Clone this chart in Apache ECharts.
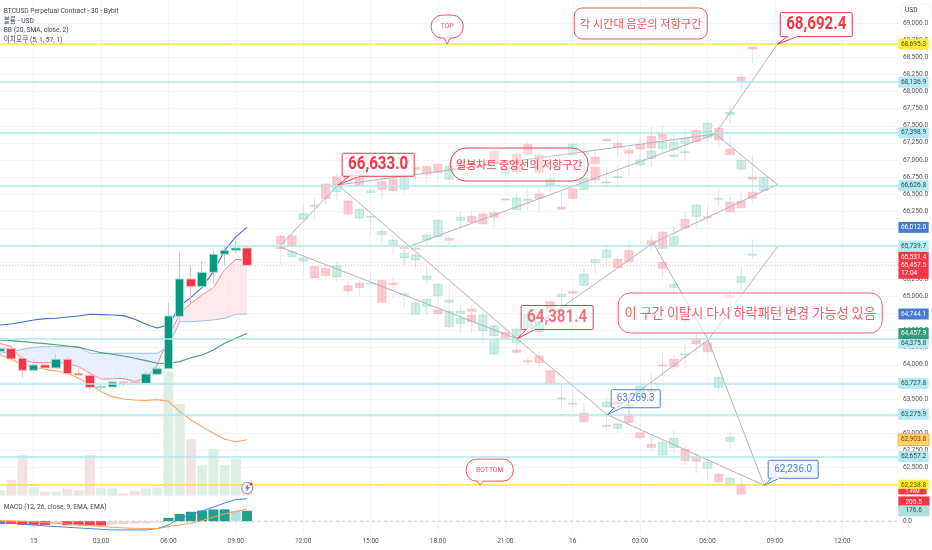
<!DOCTYPE html>
<html><head><meta charset="utf-8">
<style>html,body{margin:0;padding:0;background:#fff}#c{width:932px;height:550px}</style>
<script src="https://cdn.jsdelivr.net/npm/echarts@6/dist/echarts.min.js"></script>
</head><body><div id="c"></div>
<script>
// ---------- data ----------
const barCount = 81;
const timeTickBars = [3,9,15,21,27,33,39,45,51,57,63,69,75];
const timeTickLabels = ['15','03:00','06:00','09:00','12:00','15:00','18:00','21:00','16','03:00','06:00','09:00','12:00'];
const priceTicks = [62250,62500,62750,63000,63250,63500,63750,64000,64250,64500,64750,65000,65250,65500,65750,66000,66250,66500,66750,67000,67250,67500,67750,68000,68250,68500,68750,69000];
// [open, close, low, high]
const candles = [
[64198,64237,64178,64256],[64237,64086,64086,64291],[64095,63920,63812,64120],[63920,63998,63920,64086],
[63998,63954,63949,64008],[63954,64081,63954,64159],[64081,63871,63871,64130],[63876,63851,63851,63949],
[63846,63671,63632,63905],[63671,63681,63622,63729],[63676,63749,63676,63759],[63749,63739,63681,63793],
[63749,63739,63705,63768],[63729,63866,63729,63900],[63861,63944,63861,64022],[63944,64715,63944,64915],
[64710,65257,64632,65642],[65257,65145,64901,65462],[65145,65354,65135,65520],[65354,65618,65193,65681],
[65618,65677,65462,65730],[65677,65711,65633,65852],[65711,65457,65452,65711]];
const volumes = [11,32,82,17,8,8,14,11,82,16,15,5,9,15,17,250,185,114,61,94,62,75,11];
const bbUpper = [64583,64598,64627,64657,64676,64681,64700,64715,64740,64735,64730,64720,64666,64593,64539,64583,64862,64988,65135,65364,65672,65877,66012];
const bbMiddle = [64364,64354,64339,64325,64310,64295,64276,64256,64217,64178,64154,64130,64095,64061,64022,64022,64047,64105,64144,64217,64315,64388,64458];
const bbLower = [64144,64086,63998,63964,63934,63910,63876,63803,63720,63607,63534,63500,63485,63480,63490,63466,63315,63193,63095,62997,62910,62875,62904];
const spanA = [64315,64266,64071,64032,64032,64032,64022,63973,63876,63793,63793,63803,63754,63803,63998,64388,64754,64901,65023,65130,65389,65545,65531];
const spanB = [64169,64193,64227,64256,64266,64266,64266,64266,64169,64169,64169,64169,64169,64169,64169,64266,64632,64632,64642,64657,64681,64740,64744];
const macdHist = [-46,-46,-63,-63,-63,-40,-68,-68,-74,-74,-57,-46,-40,-34,-17,57,125,160,182,200,201,177,177];
const macdLine = [-23,-34,-51,-63,-80,-91,-103,-114,-125,-137,-148,-148,-148,-148,-125,-63,51,108,177,239,308,365,382];
const macdSignal = [11,6,0,-11,-23,-34,-46,-63,-74,-91,-103,-114,-120,-125,-125,-91,-63,-34,11,68,125,165,205];
// faded projection candles: [bar, open, close, low, high]
const ghostBars = [
[25,65882,65769,65769,65901],[25,65730,65701,65462,65769],[26,65891,65740,65701,65926],[26,65584,65657,65574,65682],
[27,66131,66214,66121,66365],[27,65521,65560,65340,65584],[28,66326,66336,66145,66438],[28,65438,65272,65272,65447],
[29,66648,66433,66340,66658],[29,65413,65306,65252,65486],[30,66755,66633,66633,66804],[30,66536,66633,66414,66633],
[30,65291,65452,65218,65511],[31,66843,66706,66706,66902],[31,66399,66209,66194,66414],[31,65159,65086,65023,65218],
[32,66828,66623,66623,66877],[32,66150,66277,66121,66292],[32,65194,65130,64998,65242],[33,66521,66550,66521,66570],
[33,66169,66174,65901,66194],[33,65189,65198,65184,65364],[34,66682,66570,66438,66731],[34,65906,65950,65779,65999],
[34,65233,64915,64915,65242],[35,66716,66550,66550,66780],[35,65745,65823,65608,65901],[35,65198,65174,64974,65291],
[36,66570,66741,66511,66804],[36,65716,65701,65462,65740],[36,65569,65633,65462,65706],[36,65028,65037,64828,65072],
[37,66887,66863,66682,66950],[37,65706,65696,65682,65721],[37,65535,65608,65413,65633],[37,64740,64901,64740,64925],
[38,66902,66789,66667,66926],[38,65828,65896,65730,65926],[38,65252,65301,65169,65438],[38,64857,64959,64730,64974],
[39,66936,66814,66706,66950],[39,65877,66116,65867,66121],[39,65013,65179,64901,65194],[39,64803,64745,64745,64828],
[40,66716,66902,66682,66950],[40,65852,65823,65755,65901],[40,64915,64945,64754,65194],[40,64559,64779,64535,64803],
[41,66116,66155,65999,66243],[41,66975,66902,66828,67072],[41,64754,64784,64632,64876],[41,64608,64686,64471,64803],
[42,66174,66087,66072,66267],[42,64818,64784,64760,64876],[42,64730,64632,64462,64852],[43,66209,66062,66048,66243],
[43,64501,64730,64315,64828],[44,67121,66950,66902,67146],[44,66228,66160,66013,66267],[44,64427,64569,64423,64584],
[44,64159,64374,64144,64388],[45,66804,66877,66780,66999],[45,66423,66428,66423,66428],[45,64476,64388,64364,64486],
[46,67082,66828,66779,67145],[46,66276,66437,66267,66511],[46,64330,64525,64266,64535],[46,64218,64183,64144,64242],
[47,67228,67082,67047,67267],[47,66408,66423,66267,66569],[47,64549,64745,64510,64779],[47,64061,64042,63998,64120],
[48,67072,66818,66779,67121],[48,66501,66437,66218,66584],[48,64486,64632,64462,64706],[48,64130,64032,63949,64203],
[49,66633,66716,66486,66803],[49,64925,64828,64803,64950],[49,63915,63730,63730,63925],[50,66311,66276,66276,66535],
[50,64998,65033,64852,65096],[50,63505,63515,63339,63705],[51,67072,67228,67072,67267],[51,66574,66437,66437,66633],
[51,65072,65047,64925,65110],[51,63437,63432,63339,63622],[52,66569,66730,66559,67267],[52,65164,65325,65154,65413],
[52,63290,63168,63168,63437],[53,67038,66945,66945,67194],[53,66891,66706,66633,66901],[53,65496,65544,65330,65583],
[54,67301,67282,67267,67330],[54,66667,66677,66608,66901],[54,65574,65681,65461,65754],[54,63388,63451,63388,63534],
[54,63115,63110,63046,63290],[55,67243,67184,67047,67404],[55,66745,66755,66584,66925],[55,65544,65422,65422,65608],
[55,63456,63427,63290,63486],[55,63071,63134,62998,63144],[56,67140,67096,66779,67218],[56,65676,65510,65500,65827],
[56,63373,63412,63266,63461],[56,63256,63154,63095,63364],[57,67228,67160,66999,67389],[57,66930,66999,66901,67072],
[57,63534,63691,63534,63778],[57,63007,62934,62900,63144],[58,67345,67174,67072,67487],[58,67018,67130,66901,67169],
[58,65818,65740,65657,65901],[58,63622,63608,63437,63876],[58,62837,62788,62744,62949],[59,67374,67301,67243,67511],
[59,67169,67257,67096,67316],[59,65940,65705,65705,65974],[59,65500,65413,65291,65500],[59,63998,63988,63827,64193],
[59,62680,62861,62656,62900],[60,67150,67257,67121,67389],[60,67047,67072,67038,67121],[60,65759,65876,65730,66032],
[60,65134,65178,64949,65193],[60,64081,63969,63925,64144],[60,62788,62924,62705,63046],[61,67243,67316,67169,67462],
[61,67106,67121,66984,67243],[61,66130,65998,65984,66242],[61,64632,64657,64462,64828],[61,64144,64159,63949,64315],
[61,62763,62597,62534,62802],[62,67428,67267,67243,67462],[62,66174,66340,66023,66364],[62,64388,64305,64169,64559],
[62,62646,62588,62412,62705],[63,67413,67535,67316,67560],[63,67326,67413,67267,67438],[63,66169,66154,66096,66325],
[63,64325,64193,64169,64388],[63,62485,62573,62339,62632],[64,67462,67291,67169,67535],[64,66432,66437,66315,66584],
[64,63671,63817,63583,63827],[64,62397,62290,62217,62412],[65,67667,67696,67535,67804],[65,67155,67077,67077,67340],
[65,66379,66242,66228,66462],[65,65023,64984,64828,65096],[65,62876,62939,62763,63022],[65,62241,62339,62217,62363],
[66,68214,68155,68009,68258],[66,66867,66994,66852,67047],[66,66398,66301,66291,66535],[66,65208,65291,65095,65437],
[66,62251,62109,62095,62363],[67,68653,68624,68419,68660],[67,66750,66716,66633,67072],[67,66525,66437,66364,66730],
[67,65613,65618,65559,65837],[68,66550,66745,66550,66755]];
// zigzag pivots: [bar, price]
const zigzagA = [[24.86,65730],[30.11,66633],[46.05,64381.4],[54.07,63269.3],[68.05,62236]];
const zigzagB = [[24.86,65730],[46.05,64381.4]];
const zigzagC = [[30.11,66633],[63.69,67379],[69.21,66640]];
const zigzagD = [[36.35,65730],[63.69,67379],[69.21,68692.4]];
const zigzagE = [[46.05,64381.4],[58.16,65784],[69.21,66640]];
const zigzagF = [[58.16,65784],[63.06,64364],[68.05,62236]];
const zigzagG = [[54.07,63269.3],[63.06,64364],[69.21,65725]];
const cyanLevels = [68136.9,67398.9,66626.8,65739.7,64375.8,63727.8,63275.9,62657.2];
const yellowLevels = [68695.3,62238.8];
const blueTags = [66012.0,64744.1];
const greenTags = [64457.9];
const bbLowerTag = 62903.8;
const lastPrice = 65457.5;
const lastTagText = '65,531.4\n65,457.5\n17:04';
const volumeTagPrice = 62143;
const volumeTagText = '1.49M';
const macdTagRed = 205.5, macdTagTeal = 176.6;
const legendLines = ['BTCUSD Perpetual Contract - 30 - Bybit','볼륨 - USD','BB (20, SMA, close, 2)','이치모쿠 (5, 1, 57, 1)'];
const macdLegend = 'MACD (12, 26, close, 9, EMA, EMA)';
// annotations: anchor bar, anchor price, text
const noteBars = [30.11,69.21,46.05,54.07,68.05,39.82,42.76,51.13,40.09,55.05];
const notePrices = [66633,68692.4,64381.4,63269.3,62236,68695.3,62238.8,69224,67174,65052];
const noteTexts = ['66,633.0','68,692.4','64,381.4','63,269.3','62,236.0','TOP','BOTTOM','각 시간대 음운의 저항구간','일봉차트 중앙선의 저항구간','이 구간 이탈시 다시 하락패턴 변경 가능성 있음'];
// tags the axis pushes aside so they do not overlap: shown value -> resting position on its axis
const shiftedPriceTag = {value:64375.8,restsAt:64320};
const shiftedMacdTag = {value:macdTagRed,restsAt:328};

// ---------- styles ----------
const SANS = 'Roboto,sans-serif';
const KR = '"Noto Sans CJK KR",sans-serif';
const RED='#f23645', BLUE='#4a7fd6';
const noteStyles = [
 {dx:4,dy:-31.7,w:72,h:23,r:1,c:RED,f:'rgba(255,255,255,.75)',font:'bold 18px '+SANS,sx:.84,tail:[7,17]},
 {dx:3,dy:-31.7,w:72,h:24,r:1,c:RED,f:'rgba(255,255,255,.85)',font:'bold 18px '+SANS,sx:.84,tail:[7,17]},
 {dx:4,dy:-33.3,w:72,h:24,r:1,c:RED,f:'rgba(255,255,255,.3)',font:'bold 18px '+SANS,sx:.84,tail:[5,14],tc:'rgba(242,54,69,.7)'},
 {dx:4,dy:-25,w:49,h:18,r:1,c:BLUE,f:'rgba(255,255,255,.3)',font:'11px '+SANS,sx:.9,tail:[3,11]},
 {dx:4,dy:-25,w:50,h:18,r:1,c:BLUE,f:'rgba(220,232,250,.35)',font:'11px '+SANS,sx:.9,tail:[3,11]},
 {dx:-16,dy:-29,w:32,h:23,r:11,c:'#f4525f',f:'rgba(255,255,255,.9)',font:'7.5px '+SANS,sx:.9,tail:[13,19]},
 {dx:-14,dy:-26,w:47,h:22,r:10,c:'#f4525f',f:'rgba(255,255,255,.9)',font:'7.5px '+SANS,sx:.9,tail:[11,17]},
 {dx:0,dy:0,w:133,h:31,r:8,c:'#f4525f',f:'rgba(255,255,255,.9)',font:'11.3px '+KR,sx:1},
 {dx:0,dy:0,w:138,h:33,r:16,c:'#f2414f',f:'rgba(255,255,255,.25)',font:'11px '+KR,sx:1},
 {dx:0,dy:0,w:264,h:40,r:12,c:'#f4606c',f:'rgba(255,255,255,.6)',font:'13.2px '+KR,sx:1}
];
function fmt(v){return v.toLocaleString('en-US',{minimumFractionDigits:1,maximumFractionDigits:1});}
const NOLINE={color:'rgba(0,0,0,0)',width:0,type:'solid'};
function tagLine(v,bg,color,lineColor,lineWidth,text,extra){
  return {yAxis:v,
    lineStyle:lineColor?{color:lineColor,width:lineWidth,type:'solid'}:NOLINE,
    label:Object.assign({show:true,position:'end',distance:0,formatter:text||fmt(v),color:color,backgroundColor:bg,
      fontFamily:SANS,fontSize:6.6,padding:[1.5,2.5,1.5,2.5],lineHeight:8},extra||{})};
}
function zig(pts,name){return {type:'line',name:name,xAxisIndex:1,yAxisIndex:0,data:pts,symbol:'none',silent:true,
  lineStyle:{color:'#b0b3ba',width:1},z:5,animation:false};}
function overlay(arr,color,width){return {type:'line',xAxisIndex:0,yAxisIndex:0,data:arr,symbol:'none',silent:true,
  lineStyle:{color:color,width:width||1},z:3,animation:false};}

const cats = Array.from({length:barCount},(_,i)=>String(i));
const cloudRows = spanA.slice(0,-1).map((a,i)=>[i,a,spanA[i+1],spanB[i],spanB[i+1]]);
const tagsMain = [];
cyanLevels.forEach(v=>{
  if(v===shiftedPriceTag.value){
    tagsMain.push({yAxis:v,lineStyle:{color:'#aee8ef',width:1.5,type:'solid'},label:{show:false}});
    tagsMain.push(tagLine(shiftedPriceTag.restsAt,'#b2ebf2','#33474d',null,0,fmt(v)));
  } else tagsMain.push(tagLine(v,'#b2ebf2','#33474d','#aee8ef',1.5));
});
yellowLevels.forEach(v=>tagsMain.push(tagLine(v,'#ffeb3b','#5c5200','#ffe92e',1.6)));
blueTags.forEach(v=>tagsMain.push(tagLine(v,'#4a7ad0','#fff')));
greenTags.forEach(v=>tagsMain.push(tagLine(v,'#359a78','#fff')));
tagsMain.push(tagLine(bbLowerTag,'#ffcf70','#7a4b00',null,0,null,{borderColor:'#ff9f40',borderWidth:.7}));
tagsMain.push(tagLine(lastPrice,RED,'#fff',null,0,lastTagText));
tagsMain.push(tagLine(volumeTagPrice,RED,'#fff',null,0,volumeTagText,{fontSize:5,lineHeight:4,padding:[1,7,.5,7]}));

const chart = echarts.init(document.getElementById('c'),null,{renderer:'canvas'});
chart.setOption({
 animation:false,
 backgroundColor:'#fff',
 textStyle:{fontFamily:SANS},
 grid:[{left:0,top:0,width:898.4,height:495.7},{left:0,top:495.7,width:898.4,height:37.3}],
 xAxis:[
  {type:'category',gridIndex:0,data:cats,show:false,boundaryGap:false},
  {type:'value',gridIndex:0,position:'bottom',min:0,max:barCount-1,axisLine:{show:false},axisTick:{show:false,customValues:timeTickBars},axisLabel:{show:false},
    splitLine:{show:true,lineStyle:{color:'#f3f4f6',width:1}}},
  {type:'category',gridIndex:1,data:cats,show:false,boundaryGap:false},
  {type:'value',gridIndex:1,position:'bottom',min:0,max:barCount-1,axisLine:{show:false},axisTick:{show:false,customValues:timeTickBars},
    axisLabel:{customValues:timeTickBars,margin:5,color:'#555',fontSize:6.6,fontFamily:SANS,
      formatter:v=>timeTickLabels[timeTickBars.indexOf(v)]},
    splitLine:{show:true,lineStyle:{color:'#f3f4f6',width:1}}}
 ],
 yAxis:[
  {type:'value',gridIndex:0,position:'right',min:62084,max:69341,scale:true,
    axisLine:{show:false},axisTick:{show:false,customValues:priceTicks},
    axisLabel:{customValues:priceTicks.slice(1),margin:4.5,color:'#555',fontSize:6.6,fontFamily:SANS,formatter:v=>fmt(v)},
    splitLine:{show:true,lineStyle:{color:'#f3f4f6',width:1}}},
  {type:'value',gridIndex:0,min:0,max:1000,show:false},
  {type:'value',gridIndex:1,position:'right',min:-200,max:433,
    axisLine:{show:false},axisTick:{show:false,customValues:[0]},splitLine:{show:false},
    axisLabel:{customValues:[0],margin:4.5,color:'#555',fontSize:6.6,fontFamily:SANS,formatter:v=>fmt(v)}}
 ],
 series:[
  {type:'bar',xAxisIndex:0,yAxisIndex:1,data:volumes,barWidth:10,silent:true,z:1,
    itemStyle:{color:p=>candles[p.dataIndex][1]>=candles[p.dataIndex][0]?'#dfeee3':'#f0e3e4'}},
  {type:'custom',name:'cloud',xAxisIndex:1,yAxisIndex:0,data:cloudRows,silent:true,z:2,clip:true,
    encode:{x:0,y:[1,2,3,4]},
    renderItem:function(params,api){
      const i=api.value(0),a0=api.value(1),a1=api.value(2),b0=api.value(3),b1=api.value(4);
      const P=(x,y)=>api.coord([x,y]);
      const PINK='#feeaec',SKY='#e8eefc';
      const poly=(pts,c)=>({type:'polygon',shape:{points:pts},style:{fill:c}});
      if((a0-b0)*(a1-b1)<0){
        const t=(a0-b0)/((a0-b0)-(a1-b1)),xc=i+t,yc=a0+(a1-a0)*t;
        return {type:'group',children:[
          poly([P(i,a0),P(xc,yc),P(i,b0)],a0>b0?PINK:SKY),
          poly([P(xc,yc),P(i+1,a1),P(i+1,b1)],a1>b1?PINK:SKY)]};
      }
      return poly([P(i,a0),P(i+1,a1),P(i+1,b1),P(i,b0)],a0>=b0?PINK:SKY);
    }},
  overlay(spanB,'#9cc0ea'),
  overlay(spanA,'#f58a90'),
  overlay(bbUpper,'#3d6fd6',1.1),
  overlay(bbMiddle,'#46a678',1.1),
  overlay(bbLower,'#f9a65a',1.1),
  {type:'line',name:'last price',xAxisIndex:1,yAxisIndex:0,data:[[0,lastPrice],[barCount-1,lastPrice]],symbol:'none',silent:true,z:3,
    lineStyle:{color:'#fbb4ba',width:1,type:[1,2]}},
  {type:'custom',name:'projection',xAxisIndex:1,yAxisIndex:0,data:ghostBars,silent:true,z:4,clip:true,
    encode:{x:0,y:[1,2,3,4]},
    renderItem:function(params,api){
      const i=api.value(0),o=api.value(1),c=api.value(2),l=api.value(3),h=api.value(4);
      const up=c>=o;
      const x=api.coord([i,o])[0];
      const yT=api.coord([i,Math.max(o,c)])[1],yB=api.coord([i,Math.min(o,c)])[1];
      const yH=api.coord([i,h])[1],yL=api.coord([i,l])[1];
      const hBody=Math.max(1,yB-yT);
      return {type:'group',children:[
        {type:'line',shape:{x1:x,y1:yH,x2:x,y2:yL},style:{stroke:'#dfe2e6',lineWidth:1}},
        {type:'rect',shape:{x:x-4.2,y:yT,width:8.4,height:hBody},
         style:{fill:up?'rgba(150,218,204,.45)':'rgba(250,170,176,.6)',stroke:up?'rgba(120,205,188,.45)':'rgba(248,160,168,.45)',lineWidth:.8}}
      ]};
    }},
  zig(zigzagA,'a'),zig(zigzagB,'b'),zig(zigzagC,'c'),zig(zigzagD,'d'),zig(zigzagE,'e'),zig(zigzagF,'f'),zig(zigzagG,'g'),
  {type:'candlestick',name:'BTCUSD',xAxisIndex:0,yAxisIndex:0,data:candles,barWidth:9,silent:true,z:6,
    itemStyle:{color:'#089981',color0:RED,borderColor:'#a6d9cf',borderColor0:'#f9b9be',borderWidth:1}},
  {type:'line',name:'levels',xAxisIndex:0,yAxisIndex:0,data:[],silent:true,z:8,
    markLine:{silent:true,symbol:'none',animation:false,data:tagsMain,z:8,precision:1}},
  {type:'custom',name:'notes',xAxisIndex:1,yAxisIndex:0,silent:true,z:9,clip:false,
    data:noteBars.map((b,i)=>[b,notePrices[i]]),encode:{x:0,y:1},
    renderItem:function(params,api){
      const idx=params.dataIndex,s=noteStyles[idx];
      const p=api.coord([api.value(0),api.value(1)]);
      const x=p[0]+s.dx,y=p[1]+s.dy;
      const kids=[{type:'rect',shape:{x:x,y:y,width:s.w,height:s.h,r:s.r},style:{fill:s.f,stroke:s.c,lineWidth:1}}];
      if(s.tail){
        const bx=p[0]+s.dx+s.tail[0],ex=p[0]+s.dx+s.tail[1],by=y+s.h;
        kids.push({type:'polygon',shape:{points:[[bx,by+.6],[ex,by+.6],p]},style:{fill:'rgba(255,255,255,.8)'}});
        kids.push({type:'polyline',shape:{points:[[bx,by],p,[ex,by]]},style:{fill:'none',stroke:s.c,lineWidth:1}});
        kids.push({type:'line',shape:{x1:bx+.5,y1:by,x2:ex-.5,y2:by},style:{stroke:'#fff',lineWidth:1.2}});
      }
      kids.push({type:'text',x:x+s.w/2,y:y+s.h/2,scaleX:s.sx,style:{x:0,y:0,text:noteTexts[idx],font:s.font,fill:s.tc||s.c,align:'center',verticalAlign:'middle'}});
      return {type:'group',children:kids};
    }},
  {type:'line',name:'macd zero',xAxisIndex:3,yAxisIndex:2,data:[[0,0],[barCount-1,0]],symbol:'none',silent:true,z:1,
    lineStyle:{color:'#c4c7ce',width:1,type:[3,3]}},
  {type:'bar',xAxisIndex:2,yAxisIndex:2,data:macdHist,barWidth:10,silent:true,z:2,
    itemStyle:{color:p=>{const v=macdHist[p.dataIndex],q=p.dataIndex?macdHist[p.dataIndex-1]:v;
      return v>=0?(v>=q?'#1fa08e':'#b2dfdb'):(v<=q?'#f9404f':'#ffcdd2');}}},
  {type:'line',xAxisIndex:2,yAxisIndex:2,data:macdLine,symbol:'none',silent:true,lineStyle:{color:'#4a86e0',width:1},z:3},
  {type:'line',xAxisIndex:2,yAxisIndex:2,data:macdSignal,symbol:'none',silent:true,lineStyle:{color:'#f9a05a',width:1},z:3,
    markLine:{silent:true,symbol:'none',animation:false,z:1,data:[
      {yAxis:shiftedMacdTag.restsAt,lineStyle:NOLINE,label:{show:true,position:'end',distance:0,formatter:fmt(shiftedMacdTag.value),color:'#fff',backgroundColor:RED,fontFamily:SANS,fontSize:6.6,padding:[1.5,7.5,1.5,7],lineHeight:8}},
      {yAxis:macdTagTeal,lineStyle:NOLINE,label:{show:true,position:'end',distance:0,formatter:fmt(macdTagTeal),color:'#33474d',backgroundColor:'#b2dfdb',fontFamily:SANS,fontSize:6.6,padding:[1.5,7.5,1.5,7],lineHeight:8}}
    ]}}
 ],
 graphic:[
  ...legendLines.map((t,i)=>({type:'text',x:3.7,y:[7.5,16.8,26.5,36][i],scaleX:.88,z:20,silent:true,
     style:{x:0,y:0,text:t,font:'7.6px Roboto,"Noto Sans CJK KR"',fill:'#3d4452'}})),
  {type:'text',x:3.7,y:503.5,scaleX:.88,z:20,silent:true,style:{x:0,y:0,text:macdLegend,font:'7.6px '+SANS,fill:'#3d4452'}},
  {type:'rect',x:901,y:4,z:20,silent:true,shape:{x:0,y:0,width:30,height:13,r:2},style:{fill:'#fff',stroke:'#eef0f3',lineWidth:1}},
  {type:'text',x:905,y:6.5,z:21,silent:true,style:{x:0,y:0,text:'USD',font:'6.6px '+SANS,fill:'#444'}},
  {type:'circle',x:247.3,y:488,z:20,silent:true,shape:{cx:0,cy:0,r:5.6},style:{fill:'#fff',stroke:'#7d82b8',lineWidth:1}},
  {type:'polygon',x:245,y:484,z:21,silent:true,shape:{points:[[3,0],[0,4.5],[2,4.5],[1,8],[5,3],[2.8,3]]},style:{fill:'#6f74ad'}},
  {type:'circle',x:251,y:484,z:22,silent:true,shape:{cx:0,cy:0,r:1.5},style:{fill:'#f23645'}}
 ]
});
</script></body></html>
